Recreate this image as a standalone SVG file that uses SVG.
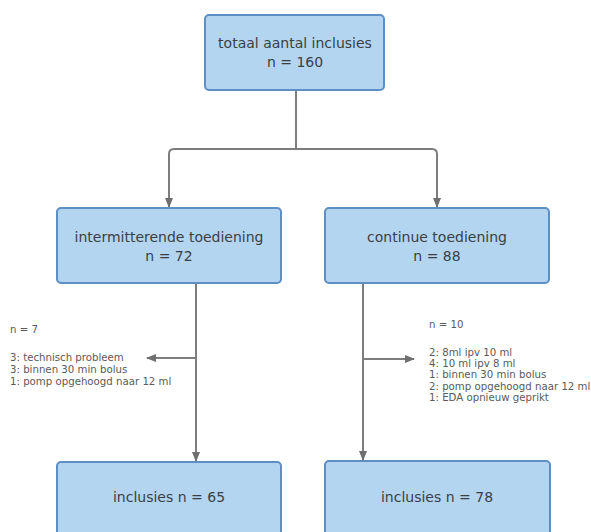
<svg xmlns="http://www.w3.org/2000/svg" width="591" height="532" viewBox="0 0 591 532">
<style>
.box{fill:#b3d5f0;stroke:#5d8fc4;stroke-width:2}
.t{font-family:"DejaVu Sans","Liberation Sans",sans-serif;font-size:14px;fill:#3a3f46;text-anchor:middle}
.s{font-family:"DejaVu Sans","Liberation Sans",sans-serif;font-size:10.2px;fill:#5a5a5a}
.c{fill:none;stroke:#7d7d7d;stroke-width:2}
</style>
<defs>
<marker id="ah" markerWidth="10" markerHeight="8" refX="9" refY="4" orient="auto" markerUnits="userSpaceOnUse">
<path d="M0,0 L10,4 L0,8 Z" fill="#6f6f6f"/>
</marker>
</defs>
<rect width="591" height="532" fill="#fff"/>
<g id="connectors">
<path class="c" d="M296,90 V149"/>
<path class="c" d="M169,207 V154 Q169,149 174,149 H432 Q437,149 437,154 V207" marker-end="url(#ah)"/>
<path class="c" d="M169,154 V207" marker-end="url(#ah)"/>
<path class="c" d="M196,283 V461" marker-end="url(#ah)"/>
<path class="c" d="M196,358 H147" marker-end="url(#ah)"/>
<path class="c" d="M363,283 V460" marker-end="url(#ah)"/>
<path class="c" d="M363,359 H414" marker-end="url(#ah)"/>
</g>
<g id="n-total">
<rect class="box" x="205" y="15" width="179" height="75" rx="4"/>
<text class="t" x="295" y="48">totaal aantal inclusies</text>
<text class="t" x="295" y="67">n = 160</text>
</g>
<g id="n-intermittent">
<rect class="box" x="57" y="208" width="224" height="75" rx="4"/>
<text class="t" x="169" y="242">intermitterende toediening</text>
<text class="t" x="169" y="261">n = 72</text>
</g>
<g id="n-continuous">
<rect class="box" x="325" y="208" width="224" height="75" rx="4"/>
<text class="t" x="437" y="242">continue toediening</text>
<text class="t" x="437" y="261">n = 88</text>
</g>
<g id="n-excl-left">
<text class="s" x="10" y="333">n = 7</text>
<text class="s" x="10" y="361">3: technisch probleem</text>
<text class="s" x="10" y="373">3: binnen 30 min bolus</text>
<text class="s" x="10" y="385">1: pomp opgehoogd naar 12 ml</text>
</g>
<g id="n-excl-right">
<text class="s" x="429" y="328">n = 10</text>
<text class="s" x="429" y="356">2: 8ml ipv 10 ml</text>
<text class="s" x="429" y="367">4: 10 ml ipv 8 ml</text>
<text class="s" x="429" y="378">1: binnen 30 min bolus</text>
<text class="s" x="429" y="390">2: pomp opgehoogd naar 12 ml</text>
<text class="s" x="429" y="401">1: EDA opnieuw geprikt</text>
</g>
<g id="n-incl-left">
<rect class="box" x="57" y="462" width="224" height="80" rx="4"/>
<text class="t" x="169" y="502">inclusies n = 65</text>
</g>
<g id="n-incl-right">
<rect class="box" x="325" y="461" width="225" height="80" rx="4"/>
<text class="t" x="437" y="502">inclusies n = 78</text>
</g>
</svg>
